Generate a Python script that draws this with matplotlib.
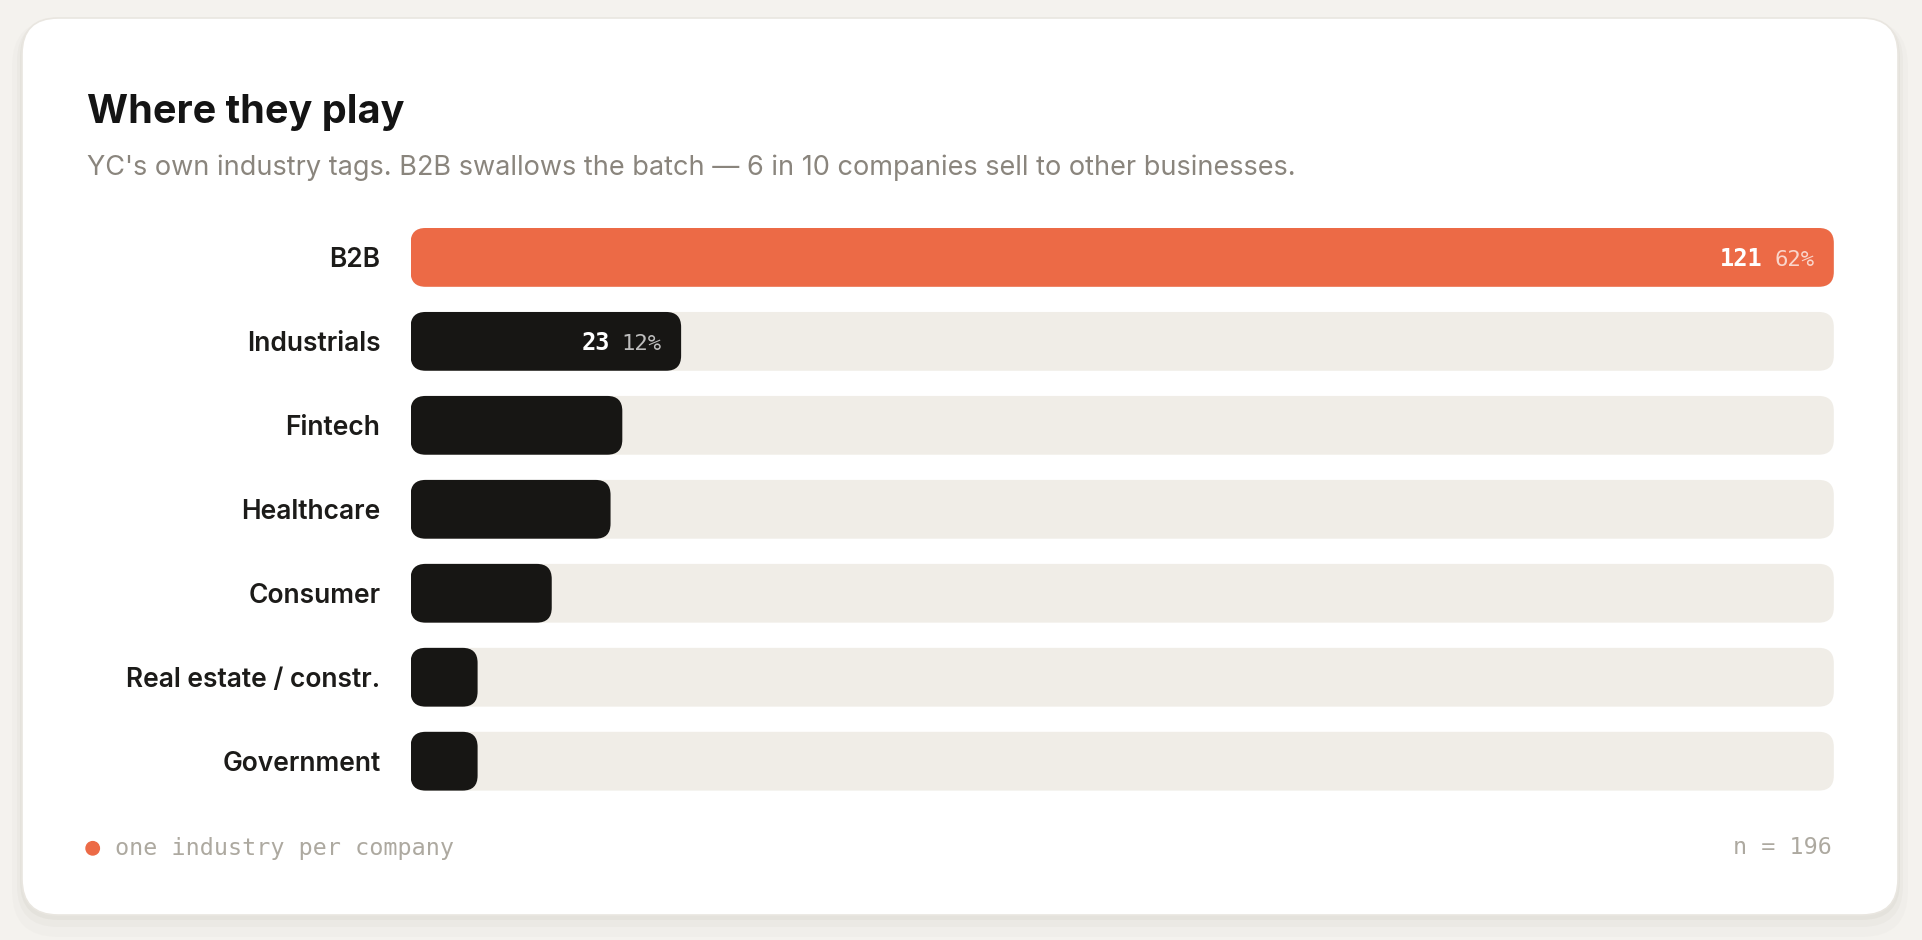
"""
Where they play: industry split of the batch as rounded horizontal bars
"""
import matplotlib.pyplot as plt
from matplotlib.patches import FancyBboxPatch, Circle

categories = [
    "B2B",
    "Industrials",
    "Fintech",
    "Healthcare",
    "Consumer",
    "Real estate / constr.",
    "Government",
]
counts = [121, 23, 18, 17, 12, 3, 2]
n_total = 196
n_labelled = 2  # only the first bars carry a value label

title_text = "Where they play"
subtitle_text = ("YC's own industry tags. B2B swallows the batch \u2014 "
                 "6 in 10 companies sell to other businesses.")
footnote_text = "one industry per company"

# canvas in pixels
W, H = 1922, 940
BG = "#F4F2EE"
ORANGE = "#EC6A46"
INK = "#171614"
TRACK = "#F0EDE7"
SANS = ["Inter", "DejaVu Sans"]
MONO = "DejaVu Sans Mono"

fig = plt.figure(figsize=(W / 100, H / 100), dpi=100)
fig.patch.set_facecolor(BG)

# background axes in pixel units (y down)
bg = fig.add_axes([0, 0, 1, 1])
bg.set_xlim(0, W)
bg.set_ylim(H, 0)
bg.axis("off")

cx, cy, cw, ch = 22, 18, 1876, 897
for grow, dy, alpha in [(10, 12, 0.018), (5, 7, 0.03), (2, 3, 0.045)]:
    bg.add_patch(FancyBboxPatch(
        (cx - grow, cy + dy - grow), cw + 2 * grow, ch + 2 * grow,
        boxstyle=f"round,pad=0,rounding_size={36 + grow}",
        fc="#5a5040", ec="none", alpha=alpha
    ))
bg.add_patch(FancyBboxPatch(
    (cx, cy), cw, ch,
    boxstyle="round,pad=0,rounding_size=36",
    fc="white", ec="#E9E6E0", lw=1.2
))

bg.text(87, 122.7, title_text, family=SANS, fontsize=28.5,
        fontweight="bold", color="#141414", va="baseline")
bg.text(87, 175, subtitle_text, family=SANS, fontsize=19.5,
        color="#8A857D", va="baseline")

# bars axes
ax = fig.add_axes([410.6 / W, 1 - 790.6 / H, 1423.2 / W, 562.6 / H])
ax.patch.set_visible(False)
xmax = max(counts)
_ = ax.set_xlim(0, xmax)
_ = ax.set_ylim(len(categories) - 0.65, -0.35)

pos = ax.get_position()
sx = pos.width * W / xmax
sy = pos.height * H / abs(ax.get_ylim()[0] - ax.get_ylim()[1])
bar_h = 0.7
radius = 15  # px
min_len = 67 / sx  # smallest drawn bar, px -> data


def rounded_bar(y, length, color):
    ax.add_patch(FancyBboxPatch(
        (0, y - bar_h / 2), length, bar_h,
        boxstyle=f"round,pad=0,rounding_size={radius / sx}",
        mutation_aspect=sx / sy,
        fc=color, ec="none"
    ))


for i, c in enumerate(counts):
    rounded_bar(i, xmax, TRACK)
    rounded_bar(i, max(c, min_len), ORANGE if i == 0 else INK)

fs_num, fs_pct = 17, 16
for i in range(n_labelled):
    pct = f"{round(100 * counts[i] / n_total)}%"
    end = max(counts[i], min_len)
    ax.annotate(pct, (end, i), xytext=(-14, -6), textcoords="offset points",
                ha="right", va="baseline", family=MONO, fontsize=fs_pct,
                color="white", alpha=0.72)
    ax.annotate(str(counts[i]), (end, i),
                xytext=(-14 - len(pct) * 0.602 * fs_pct - 8, -6),
                textcoords="offset points", ha="right", va="baseline",
                family=MONO, fontsize=fs_num, fontweight="bold", color="white")

_ = ax.set_yticks(range(len(categories)), categories)
ax.tick_params(axis="y", length=0, pad=21.7)
for lab in ax.get_yticklabels():
    lab.set(family=SANS, fontsize=19, fontweight="semibold", color="#1C1B19")
_ = ax.set_xticks([])
for s in ax.spines.values():
    s.set_visible(False)

# footer
bg.add_patch(Circle((92.7, 848.3), 6.7, color=ORANGE))
bg.text(115, 854.5, footnote_text, family=MONO, fontsize=16.8,
        color="#ADA9A0", va="baseline")
bg.text(1832, 854.5, f"n = {n_total}", family=MONO, fontsize=16.8,
        color="#ADA9A0", va="baseline", ha="right")

fig.savefig("out.png", dpi=100, facecolor=BG)
plt.close(fig)
